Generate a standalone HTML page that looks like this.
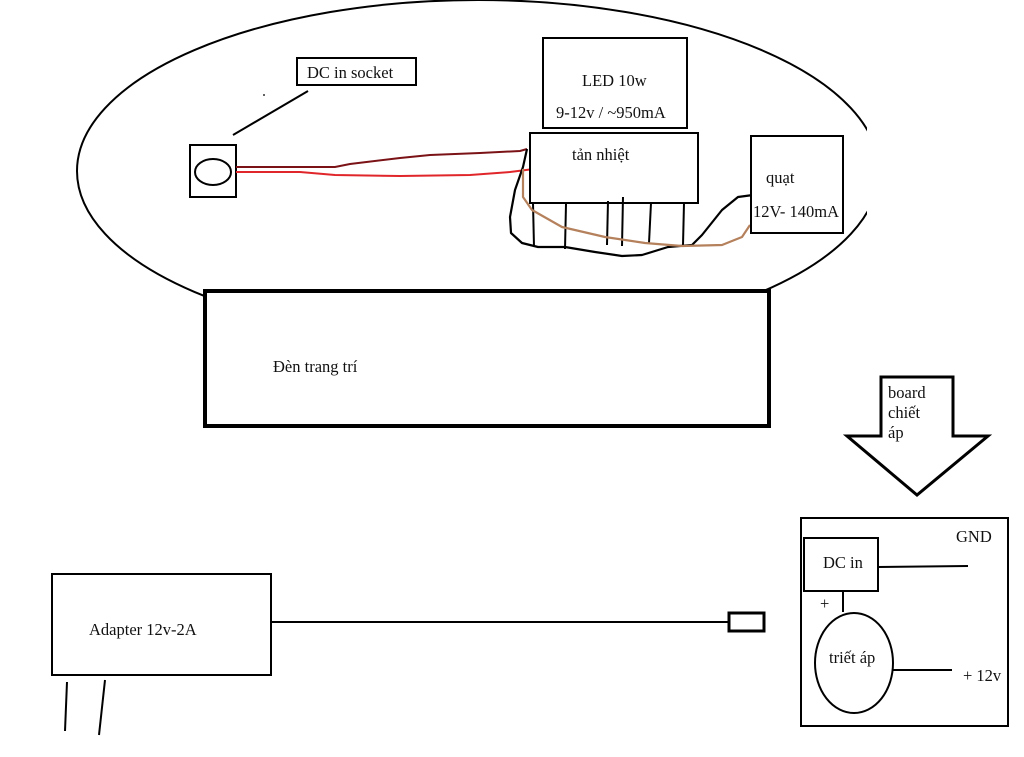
<!DOCTYPE html>
<html>
<head>
<meta charset="utf-8">
<style>
html,body{margin:0;padding:0;background:#fff;}
svg{display:block;}
text{font-family:"Liberation Serif","DejaVu Serif",serif;font-size:16.5px;fill:#111;}
</style>
</head>
<body>
<svg width="1024" height="757" viewBox="0 0 1024 757" xmlns="http://www.w3.org/2000/svg">
  <!-- big ellipse -->
  <ellipse cx="478" cy="171" rx="401" ry="171" fill="none" stroke="#000" stroke-width="2"/>
  <!-- mask right edge of ellipse -->
  <rect x="867" y="126" width="30" height="90" fill="#fff"/>

  <!-- lamp rect -->
  <rect x="205" y="291" width="564" height="135" fill="#fff" stroke="#000" stroke-width="4"/>
  <text x="273" y="372">Đèn trang trí</text>

  <!-- DC in socket label -->
  <rect x="297" y="58" width="119" height="27" fill="#fff" stroke="#000" stroke-width="2"/>
  <text x="307" y="78">DC in socket</text>
  <line x1="233" y1="135" x2="308" y2="91" stroke="#000" stroke-width="2"/>
  <circle cx="264" cy="95" r="1" fill="#333"/>

  <!-- socket -->
  <rect x="190" y="145" width="46" height="52" fill="none" stroke="#000" stroke-width="2"/>
  <ellipse cx="213" cy="172" rx="18" ry="13" fill="none" stroke="#000" stroke-width="2"/>

  <!-- red wires -->
  <path d="M236,167 L335,167 L350,164 L400,158 L430,155 L480,153 L520,151 L527,149" fill="none" stroke="#7a1216" stroke-width="2"/>
  <path d="M236,172 L300,172 L335,175 L400,176 L470,175 L510,172 L534,169" fill="none" stroke="#e0262a" stroke-width="2"/>

  <!-- LED box -->
  <rect x="543" y="38" width="144" height="90" fill="#fff" stroke="#000" stroke-width="2"/>
  <text x="582" y="86">LED 10w</text>
  <text x="556" y="118">9-12v / ~950mA</text>

  <!-- heat sink -->
  <rect x="530" y="133" width="168" height="70" fill="#fff" stroke="#000" stroke-width="2"/>
  <text x="572" y="160">tản nhiệt</text>

  <!-- fins -->
  <g stroke="#000" stroke-width="2">
    <line x1="533" y1="203" x2="534" y2="247"/>
    <line x1="566" y1="204" x2="565" y2="249"/>
    <line x1="608" y1="201" x2="607" y2="245"/>
    <line x1="623" y1="197" x2="622" y2="246"/>
    <line x1="651" y1="203" x2="649" y2="243"/>
    <line x1="684" y1="203" x2="683" y2="245"/>
  </g>

  <!-- black wire -->
  <path d="M527,149 L523,167 L515,190 L510,217 L511,233 L522,243 L538,247 L565,247 L595,252 L622,256 L642,255 L668,247 L692,245 L702,235 L722,210 L738,197 L753,195" fill="none" stroke="#000" stroke-width="2.2" stroke-linejoin="round"/>
  <!-- brown wire -->
  <path d="M523,169 L523,197 L532,210 L562,227 L605,237 L645,243 L682,246 L722,245 L742,237 L750,225" fill="none" stroke="#b5815c" stroke-width="2.2" stroke-linejoin="round"/>

  <!-- fan -->
  <rect x="751" y="136" width="92" height="97" fill="#fff" stroke="#000" stroke-width="2"/>
  <text x="766" y="183">quạt</text>
  <text x="753" y="217">12V- 140mA</text>

  <!-- arrow -->
  <polygon points="881,377 953,377 953,436 988,436 917,495 847,436 881,436" fill="#fff" stroke="#000" stroke-width="3" stroke-linejoin="miter"/>
  <text x="888" y="398">board</text>
  <text x="888" y="418">chiết</text>
  <text x="888" y="438">áp</text>

  <!-- board -->
  <rect x="801" y="518" width="207" height="208" fill="#fff" stroke="#000" stroke-width="2"/>
  <rect x="804" y="538" width="74" height="53" fill="#fff" stroke="#000" stroke-width="2"/>
  <text x="823" y="568">DC in</text>
  <text x="956" y="542">GND</text>
  <line x1="878" y1="567" x2="968" y2="566" stroke="#000" stroke-width="2"/>
  <text x="820" y="609">+</text>
  <line x1="843" y1="591" x2="843" y2="612" stroke="#000" stroke-width="2"/>
  <ellipse cx="854" cy="663" rx="39" ry="50" fill="#fff" stroke="#000" stroke-width="2"/>
  <text x="829" y="663">triết áp</text>
  <line x1="893" y1="670" x2="952" y2="670" stroke="#000" stroke-width="2"/>
  <text x="963" y="681">+ 12v</text>

  <!-- adapter -->
  <rect x="52" y="574" width="219" height="101" fill="#fff" stroke="#000" stroke-width="2"/>
  <text x="89" y="635">Adapter 12v-2A</text>
  <line x1="67" y1="682" x2="65" y2="731" stroke="#000" stroke-width="2"/>
  <line x1="105" y1="680" x2="99" y2="735" stroke="#000" stroke-width="2"/>
  <line x1="271" y1="622" x2="728" y2="622" stroke="#000" stroke-width="2"/>
  <rect x="729" y="613" width="35" height="18" fill="#fff" stroke="#000" stroke-width="3"/>
</svg>
</body>
</html>
